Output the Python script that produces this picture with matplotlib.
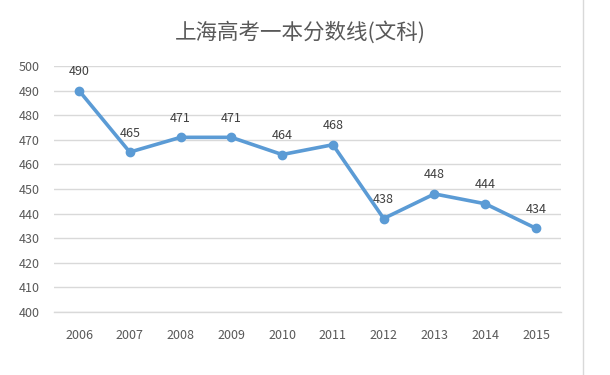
import matplotlib.pyplot as plt
import matplotlib.lines as mlines

plt.rcParams['font.family'] = ['Noto Sans CJK SC', 'DejaVu Sans']

years = ['2006', '2007', '2008', '2009', '2010', '2011', '2012', '2013', '2014', '2015']
scores = [490, 465, 471, 471, 464, 468, 438, 448, 444, 434]
yticks = list(range(400, 501, 10))

fig = plt.figure(figsize=(6.1, 3.75), dpi=100)
ax = fig.add_axes([53.6 / 610, 63 / 375, (561.4 - 53.6) / 610, (312 - 66) / 375])

x = list(range(len(years)))
ax.plot(x, scores, color='#5B9BD5', lw=2.6, marker='o', ms=6, zorder=3)
for xi, v in zip(x, scores):
    ax.annotate(str(v), (xi, v), xytext=(0, 9), textcoords='offset points',
                ha='center', va='bottom', fontsize=9, color='#404040')

ax.set_xlim(-0.5, len(years) - 0.5)
ax.set_ylim(400, 500)
ax.set_yticks(yticks)
ax.set_xticks(x)
ax.set_xticklabels(years)
ax.grid(axis='y', color='#D9D9D9', lw=1)
ax.axhline(400, color='#D9D9D9', lw=1, clip_on=False, zorder=0)
ax.set_axisbelow(True)
for s in ax.spines.values():
    s.set_visible(False)
ax.tick_params(length=0, labelsize=9, colors='#595959', pad=10)
ax.tick_params(axis='x', pad=12)

fig.text(300 / 610, 1 - 32 / 375, '上海高考一本分数线(文科)', ha='center', va='center',
         fontsize=15.5, color='#595959')
fig.add_artist(mlines.Line2D([583 / 610, 583 / 610], [0, 1], color='#D9D9D9', lw=1))

fig.savefig('out.png', dpi=100)
